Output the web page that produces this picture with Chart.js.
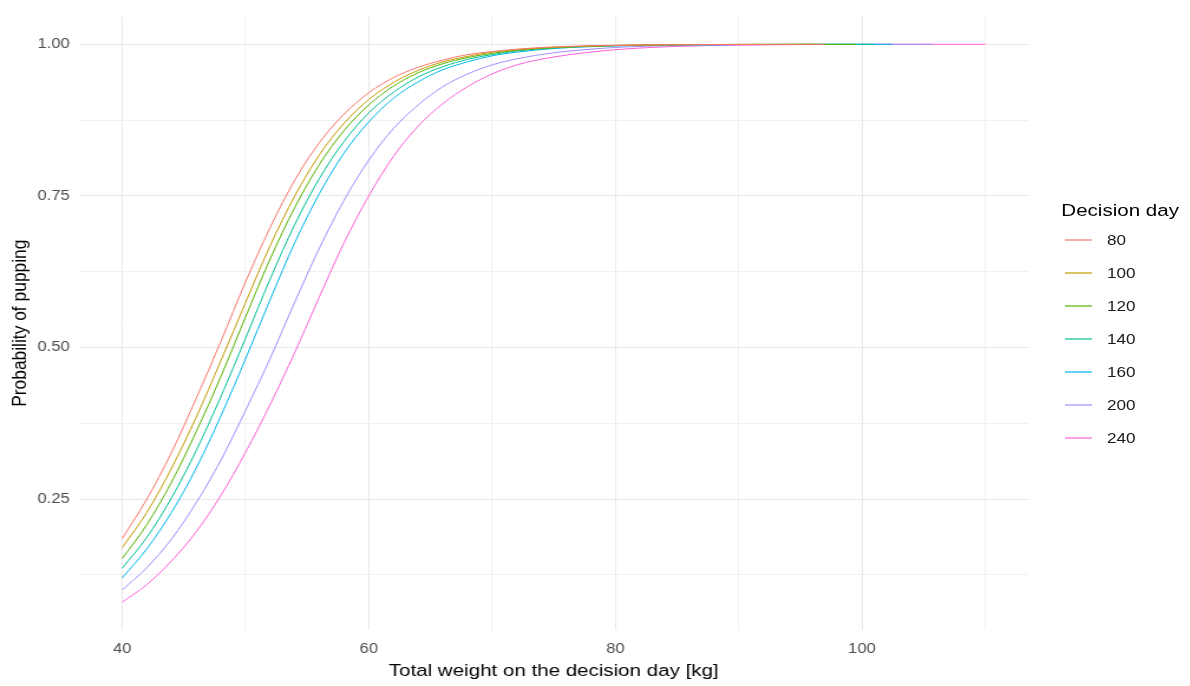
<!DOCTYPE html>
<html>
<head>
<meta charset="utf-8">
<script src="https://cdn.jsdelivr.net/npm/chart.js@4.4.1/dist/chart.umd.min.js"></script>
<style>
    body { margin: 0; background: #fff; overflow: hidden; }
    /* the source picture is stretched sideways, so the whole chart is too */
    #wrap {
        position: relative;
        width: 1008px;
        height: 686px;
        transform: scaleX(1.1806);
        transform-origin: 0 0;
        font-family: "Liberation Sans", Arial, sans-serif;
    }
    #legend { position: absolute; left: 899px; top: 200px; }
    .legend-title { font-size: 17.4px; line-height: 20px; height: 23px; color: #000; }
    .legend-row { display: flex; align-items: center; height: 33px; }
    .legend-key { display: block; margin-left: 3px; }
    .legend-label { margin-left: 12.6px; font-size: 14.5px; color: #1a1a1a; }
</style>
</head>
<body>
<div id="wrap">
    <canvas id="chart" width="1008" height="686"></canvas>
    <div id="legend"></div>
</div>
<script>
// Decision days (legend) and colours
const decisionDays = ['80', '100', '120', '140', '160', '200', '240'];
const lineColors = ['#F8766D', '#C49A00', '#53B400', '#00C094', '#00B6EB', '#A58AFF', '#FB61D7'];

// total weight (kg) where the curves were read
const weight = [40, 42, 44, 46, 48, 50, 52, 54, 56, 58, 60, 62, 64, 66, 68, 70, 72, 75, 80, 85, 90, 95, 100, 105, 110];
// last weight of every curve
const lineEnd = [97, 96, 99.5, 101, 102.5, 105.7, 110];

// probability of pupping, one list per decision day (last value = at lineEnd)
const day80  = [0.185, 0.250, 0.327, 0.416, 0.510, 0.608, 0.698, 0.776, 0.838, 0.885, 0.920, 0.945, 0.962, 0.974, 0.983, 0.988, 0.992, 0.9957, 0.9984, 0.9994, 0.9998, 0.9999, 1.0];
const day100 = [0.170, 0.228, 0.301, 0.385, 0.478, 0.574, 0.668, 0.750, 0.818, 0.870, 0.909, 0.937, 0.957, 0.971, 0.980, 0.987, 0.991, 0.995, 0.998, 0.9993, 0.9998, 0.9999, 1.0];
const day120 = [0.152, 0.208, 0.278, 0.361, 0.452, 0.550, 0.646, 0.731, 0.802, 0.858, 0.900, 0.931, 0.953, 0.968, 0.978, 0.985, 0.990, 0.9945, 0.998, 0.9993, 0.9997, 0.9999, 1.0];
const day140 = [0.136, 0.187, 0.252, 0.330, 0.419, 0.515, 0.613, 0.703, 0.779, 0.840, 0.887, 0.921, 0.946, 0.963, 0.975, 0.983, 0.989, 0.994, 0.9977, 0.9991, 0.9997, 0.9999, 1.0, 1.0];
const day160 = [0.120, 0.168, 0.228, 0.301, 0.387, 0.481, 0.579, 0.673, 0.754, 0.821, 0.872, 0.911, 0.938, 0.958, 0.971, 0.981, 0.987, 0.993, 0.9973, 0.999, 0.9996, 0.9999, 1.0, 1.0];
const day200 = [0.100, 0.137, 0.184, 0.244, 0.314, 0.396, 0.482, 0.575, 0.664, 0.743, 0.809, 0.861, 0.900, 0.930, 0.951, 0.966, 0.976, 0.986, 0.9947, 0.998, 0.9992, 0.9997, 0.9999, 1.0, 1.0];
const day240 = [0.080, 0.109, 0.148, 0.196, 0.256, 0.327, 0.406, 0.492, 0.584, 0.673, 0.750, 0.815, 0.865, 0.902, 0.930, 0.951, 0.966, 0.979, 0.991, 0.9965, 0.9987, 0.9995, 0.9998, 1.0, 1.0];
const probList = [day80, day100, day120, day140, day160, day200, day240];

// axes
const xTicks = [40, 50, 60, 70, 80, 90, 100, 110];
const yTicks = [0.125, 0.25, 0.375, 0.5, 0.625, 0.75, 0.875, 1.0];

function toPoints(values, end) {
    const pts = weight.filter(w => w < end).map((w, i) => ({ x: w, y: values[i] }));
    pts.push({ x: end, y: values[values.length - 1] });
    return pts;
}

const datasets = decisionDays.map((day, i) => ({
    label: day,
    data: toPoints(probList[i], lineEnd[i]),
    borderColor: lineColors[i],
    borderWidth: 1,
    pointRadius: 0,
    cubicInterpolationMode: 'monotone',
    fill: false
}));

const gridColor = ctx => (ctx.tick && ctx.tick.label === '') ? '#f0f0f0' : '#e8e8e8';

new Chart(document.getElementById('chart'), {
    type: 'line',
    data: { datasets },
    options: {
        responsive: false,
        animation: false,
        layout: { padding: { top: 10, right: 137, left: 0, bottom: 0 } },
        plugins: {
            legend: { display: false },
            tooltip: { enabled: false }
        },
        scales: {
            x: {
                type: 'linear',
                min: 36.5,
                max: 113.5,
                afterBuildTicks: axis => { axis.ticks = xTicks.map(v => ({ value: v })); },
                afterFit: axis => { axis.height = 56; },
                ticks: {
                    padding: 11,
                    color: '#4d4d4d',
                    font: { family: 'Liberation Sans', size: 14 },
                    maxRotation: 0,
                    autoSkip: false,
                    callback: v => (v % 20 === 0 ? String(v) : '')
                },
                grid: { color: gridColor, drawTicks: false },
                border: { display: false },
                title: {
                    display: true,
                    text: 'Total weight on the decision day [kg]',
                    color: '#000',
                    font: { family: 'Liberation Sans', size: 17.4 },
                    padding: { top: 0, bottom: 4 }
                }
            },
            y: {
                min: 0.034,
                max: 1.046,
                afterBuildTicks: axis => { axis.ticks = yTicks.map(v => ({ value: v })); },
                afterFit: axis => { axis.width = 67; },
                ticks: {
                    padding: 8,
                    color: '#4d4d4d',
                    font: { family: 'Liberation Sans', size: 14 },
                    autoSkip: false,
                    callback: v => (v % 0.25 === 0 ? v.toFixed(2) : '')
                },
                grid: { color: gridColor, drawTicks: false },
                border: { display: false },
                title: {
                    display: true,
                    text: 'Probability of pupping',
                    color: '#000',
                    font: { family: 'Liberation Sans', size: 17.4 },
                    padding: { top: 6.5, bottom: 0 }
                }
            }
        }
    }
});

// legend on the right, ggplot style
const legend = document.getElementById('legend');
let html = '<div class="legend-title">Decision day</div>';
decisionDays.forEach((day, i) => {
    html += `<div class="legend-row">` +
        `<svg class="legend-key" width="23" height="4"><line x1="0" y1="2" x2="23" y2="2" stroke="${lineColors[i]}" stroke-width="1.2"/></svg>` +
        `<span class="legend-label">${day}</span></div>`;
});
legend.innerHTML = html;
</script>
</body>
</html>
